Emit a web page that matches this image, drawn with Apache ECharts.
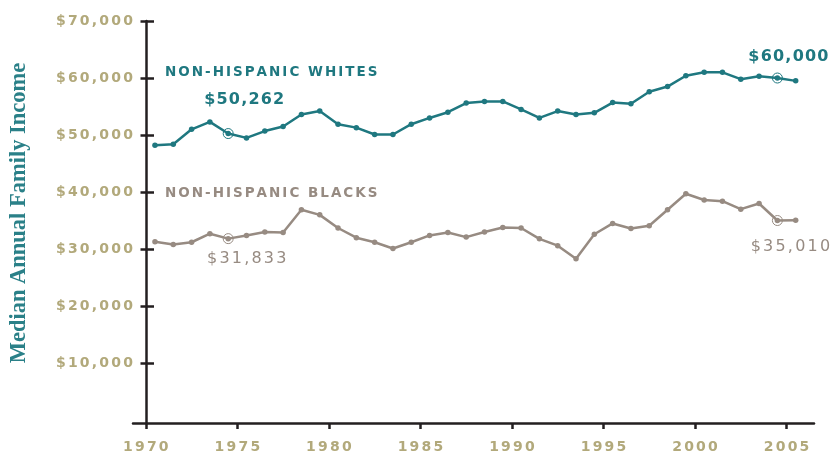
<!DOCTYPE html>
<html>
<head>
<meta charset="utf-8">
<title>Median Annual Family Income</title>
<script src="https://cdn.jsdelivr.net/npm/echarts@6.0.0/dist/echarts.min.js"></script>
<style>
	html, body { margin: 0; padding: 0; background: #fff; }
	#main { width: 830px; height: 454px; }
</style>
</head>
<body>
<div id="main"></div>
<script>
// 年份
var years = [1970, 1971, 1972, 1973, 1974, 1975, 1976, 1977, 1978, 1979,
	1980, 1981, 1982, 1983, 1984, 1985, 1986, 1987, 1988, 1989,
	1990, 1991, 1992, 1993, 1994, 1995, 1996, 1997, 1998, 1999,
	2000, 2001, 2002, 2003, 2004, 2005];

// non-hispanic whites
var whites = [48200, 48400, 51000, 52300, 50262, 49500, 50700, 51500, 53600, 54200,
	51900, 51300, 50100, 50100, 51900, 53000, 54000, 55600, 55900, 55900,
	54500, 53000, 54200, 53600, 53900, 55700, 55500, 57600, 58500, 60400,
	61000, 61000, 59800, 60300, 60000, 59500];

// non-hispanic blacks
var blacks = [31300, 30800, 31200, 32700, 31833, 32400, 33000, 32900, 36900, 36000,
	33700, 32000, 31200, 30100, 31200, 32400, 32900, 32100, 33000, 33800,
	33700, 31800, 30600, 28300, 32600, 34500, 33600, 34100, 36900, 39700,
	38600, 38400, 37000, 38000, 35010, 35050];

// 刻度
var incomeTicks = [10000, 20000, 30000, 40000, 50000, 60000, 70000];
var yearTicks = [1970, 1975, 1980, 1985, 1990, 1995, 2000, 2005];

// 标注数值的年份
var markedYears = [1974, 2004];

var TEAL = '#1f7880', TAUPE = '#978b82', KHAKI = '#b2a97b', INK = '#231f20';
var FONT = 'DejaVu Sans';

// 用富文本片段模拟字间距
function spaced(text, style) {
	return text.split('').map(function(ch) {
		return '{' + style + '|' + ch + '}';
	}).join('');
}

function money(v) {
	return '$' + Math.round(v).toLocaleString('en-US');
}

// 数据点画在年中
function points(values) {
	return years.map(function(y, i) { return [y + 0.5, values[i]]; });
}

function marks(values, offsets) {
	return markedYears.map(function(y, k) {
		var v = values[years.indexOf(y)];
		return { coord: [y + 0.5, v], value: v, label: { offset: offsets[k] } };
	});
}

function lineSeries(name, values, color, labelStyle, offsets) {
	return {
		name: name,
		type: 'line',
		data: points(values),
		symbol: 'circle',
		symbolSize: 5.5,
		lineStyle: { color: color, width: 2.5 },
		itemStyle: { color: color },
		silent: true,
		markPoint: {
			symbol: 'circle',
			symbolSize: 10,
			itemStyle: { color: 'rgba(0,0,0,0)', borderColor: color, borderWidth: 1 },
			label: {
				position: 'inside',
				formatter: function(p) { return spaced(money(p.value), 'v'); },
				rich: { v: labelStyle }
			},
			data: marks(values, offsets)
		}
	};
}

var tickText = { fontFamily: FONT, fontWeight: 'bold', fontSize: 14, color: KHAKI, padding: [0, 1.1] };
var nameText = { fontFamily: FONT, fontWeight: 'bold', fontSize: 13.5, padding: [0, 1] };

var option = {
	animation: false,
	grid: { left: 131, right: 16, top: 21, bottom: 29 },

	// 两个系列的名字
	title: [
		{
			text: spaced('NON-HISPANIC WHITES', 'n'), left: 164, top: 65, padding: 0,
			textStyle: { rich: { n: Object.assign({ color: TEAL }, nameText) } }
		},
		{
			text: spaced('NON-HISPANIC BLACKS', 'n'), left: 164, top: 186, padding: 0,
			textStyle: { rich: { n: Object.assign({ color: TAUPE }, nameText) } }
		}
	],

	xAxis: {
		type: 'value',
		min: 1969.3,
		max: 2006.5,
		axisLine: { onZero: false, lineStyle: { color: INK, width: 2.5 } },
		axisTick: { customValues: yearTicks, length: 6, lineStyle: { color: INK, width: 2.5 } },
		axisLabel: {
			customValues: yearTicks,
			margin: 17,
			formatter: function(v) { return spaced(String(v), 't'); },
			rich: { t: tickText }
		},
		splitLine: { show: false }
	},

	yAxis: [
		{
			type: 'value',
			position: 'left',
			min: -500,
			max: 70000,
			offset: -13,
			name: 'Median Annual Family Income',
			nameLocation: 'middle',
			nameRotate: 90,
			nameGap: 115,
			nameTextStyle: {
				fontFamily: 'Liberation Serif', fontWeight: 'bold', fontSize: 22.5,
				color: '#2a8088', padding: [0, 0, 0, 18]
			},
			axisLine: { show: true, onZero: false, lineStyle: { color: INK, width: 2.5 } },
			axisTick: { show: true, customValues: incomeTicks, length: 5.5, lineStyle: { color: INK, width: 2.5 } },
			axisLabel: {
				customValues: incomeTicks,
				margin: 12,
				formatter: function(v) { return spaced(money(v), 't'); },
				rich: { t: tickText }
			},
			splitLine: { show: false }
		},
		{
			// 只画朝内的那半截刻度
			type: 'value',
			position: 'left',
			min: -500,
			max: 70000,
			offset: -13,
			axisLine: { show: false },
			axisTick: { show: true, inside: true, customValues: incomeTicks, length: 8, lineStyle: { color: INK, width: 2.5 } },
			axisLabel: { show: false },
			splitLine: { show: false }
		}
	],

	series: [
		lineSeries('Non-Hispanic Whites', whites, TEAL,
			{ fontFamily: FONT, fontWeight: 'bold', fontSize: 16, color: TEAL, padding: [0, 0.6] },
			[[16, -34], [11, -21]]),
		lineSeries('Non-Hispanic Blacks', blacks, TAUPE,
			{ fontFamily: FONT, fontSize: 16, color: TAUPE, padding: [0, 1.1] },
			[[18.5, 20.5], [13, 26]])
	]
};

var chart = echarts.init(document.getElementById('main'));
chart.setOption(option);
</script>
</body>
</html>
